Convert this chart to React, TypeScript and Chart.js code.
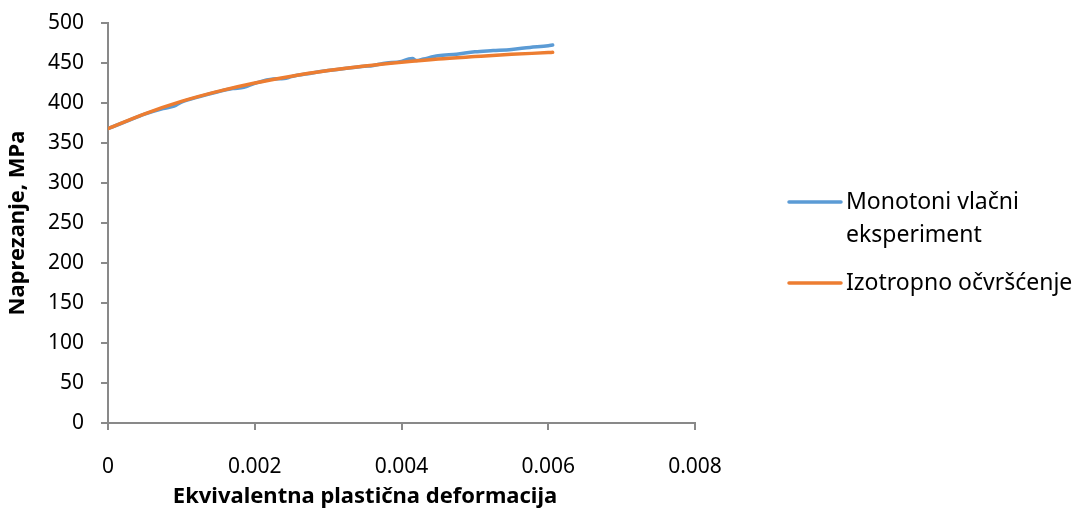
import React, { useEffect, useRef } from "react";
import { Chart, registerables } from "chart.js";

Chart.register(...registerables);

// Experimental curve (strain, stress MPa)
const expStrain = [0, 0.00025, 0.0005, 0.00075, 0.0009, 0.001, 0.00125, 0.0015, 0.0017, 0.00185, 0.002, 0.00225, 0.0024, 0.0025, 0.00275, 0.003, 0.00325, 0.0035, 0.0036, 0.00375, 0.004, 0.0041, 0.00415, 0.0042, 0.0043, 0.0045, 0.00475, 0.005, 0.00525, 0.0055, 0.00575, 0.006, 0.00606];
const expStress = [368, 377, 386, 393, 396, 401, 408, 414, 418, 419.5, 424.5, 430, 430.5, 433, 437, 440.5, 443.5, 446, 446.5, 449.5, 452, 455, 455.5, 453, 455, 459, 461, 464, 465.5, 467, 469.5, 471.5, 472.5];

// Isotropic hardening model
const isoStrain = [0, 0.0005, 0.001, 0.0015, 0.002, 0.0025, 0.003, 0.0035, 0.004, 0.0045, 0.005, 0.0055, 0.006, 0.00606];
const isoStress = [368, 386.5, 402, 414.5, 425, 433.5, 440.5, 446.3, 451, 455, 458, 460.8, 463, 463.3];

const seriesNames = [["Monotoni vlačni", "eksperiment"], ["Izotropno očvršćenje"]];
const xTickLabels = ["0", "0.002", "0.004", "0.006", "0.008"];
const xTitle = "Ekvivalentna plastična deformacija";
const yTitle = "Naprezanje, MPa";

const BLUE = "#5B9BD5";
const ORANGE = "#ED7D31";
const AXIS = "#898989";
const FONT = "'Noto Sans', sans-serif";

export default function App() {
  const ref = useRef<HTMLCanvasElement>(null);
  useEffect(() => {
    if (!ref.current) return;
    const textPlugin = {
      id: "customText",
      afterDraw(chart: any) {
        const ctx = chart.ctx;
        const area = chart.chartArea;
        ctx.save();
        // x-axis title
        ctx.font = `bold 22px ${FONT}`;
        ctx.textAlign = "center";
        ctx.textBaseline = "middle";
        ctx.fillStyle = "#000";
        ctx.fillText(xTitle, area.left + 257, area.bottom + 74);
        // legend
        const x0 = area.right + 94;
        const colors = [BLUE, ORANGE];
        const rowsY = [area.top + 179, area.top + 260];
        ctx.font = `23px ${FONT}`;
        ctx.textAlign = "left";
        seriesNames.forEach((lines, i) => {
          const y = rowsY[i];
          ctx.strokeStyle = colors[i];
          ctx.lineWidth = 3.5;
          ctx.lineCap = "round";
          ctx.beginPath();
          ctx.moveTo(x0, y);
          ctx.lineTo(x0 + 52, y);
          ctx.stroke();
          lines.forEach((t, j) => {
            ctx.fillText(t, x0 + 57, y + j * 33);
          });
        });
        ctx.restore();
      },
    };
    const chart = new Chart(ref.current, {
      type: "line",
      data: {
        datasets: [
          {
            label: seriesNames[0].join(" "),
            data: expStrain.map((x, i) => ({ x, y: expStress[i] })),
            borderColor: BLUE,
            backgroundColor: BLUE,
            borderWidth: 3.5,
            pointRadius: 0,
            cubicInterpolationMode: "monotone",
            borderCapStyle: "round",
            order: 2,
          },
          {
            label: seriesNames[1][0],
            data: isoStrain.map((x, i) => ({ x, y: isoStress[i] })),
            borderColor: ORANGE,
            backgroundColor: ORANGE,
            borderWidth: 3.5,
            pointRadius: 0,
            cubicInterpolationMode: "monotone",
            borderCapStyle: "round",
            order: 1,
          },
        ],
      },
      options: {
        responsive: false,
        animation: false,
        layout: { padding: { left: 5, right: 382, top: 23, bottom: 0 } },
        plugins: { legend: { display: false }, tooltip: { enabled: false } },
        scales: {
          x: {
            type: "linear",
            min: 0,
            max: 0.008,
            ticks: {
              stepSize: 0.002,
              color: "#000",
              font: { family: FONT, size: 21 },
              padding: 24,
              maxRotation: 0,
              callback: (_v: any, i: number) => xTickLabels[i],
            },
            grid: { drawOnChartArea: false, color: AXIS, lineWidth: 2, tickLength: 7 },
            border: { color: AXIS, width: 2 },
            title: { display: false },
            afterFit: (s: any) => { s.height = 89; },
          },
          y: {
            min: 0,
            max: 500,
            ticks: {
              stepSize: 50,
              color: "#000",
              font: { family: FONT, size: 21 },
              padding: 17,
            },
            grid: { drawOnChartArea: false, color: AXIS, lineWidth: 2, tickLength: 7 },
            border: { color: AXIS, width: 2 },
            title: {
              display: true,
              text: yTitle,
              color: "#000",
              font: { family: FONT, size: 22, weight: "bold" },
              padding: { top: 0, bottom: 0 },
            },
            afterFit: (s: any) => {
              s.width = 103;
              s.paddingTop = 0;
              s.paddingBottom = 0;
            },
          },
        },
      },
      plugins: [textPlugin],
    } as any);
    return () => chart.destroy();
  }, []);
  return (
    <div style={{ position: "fixed", left: 0, top: 0, width: 1077, height: 512, background: "#fff" }}>
      <canvas ref={ref} width={1077} height={512} />
    </div>
  );
}
